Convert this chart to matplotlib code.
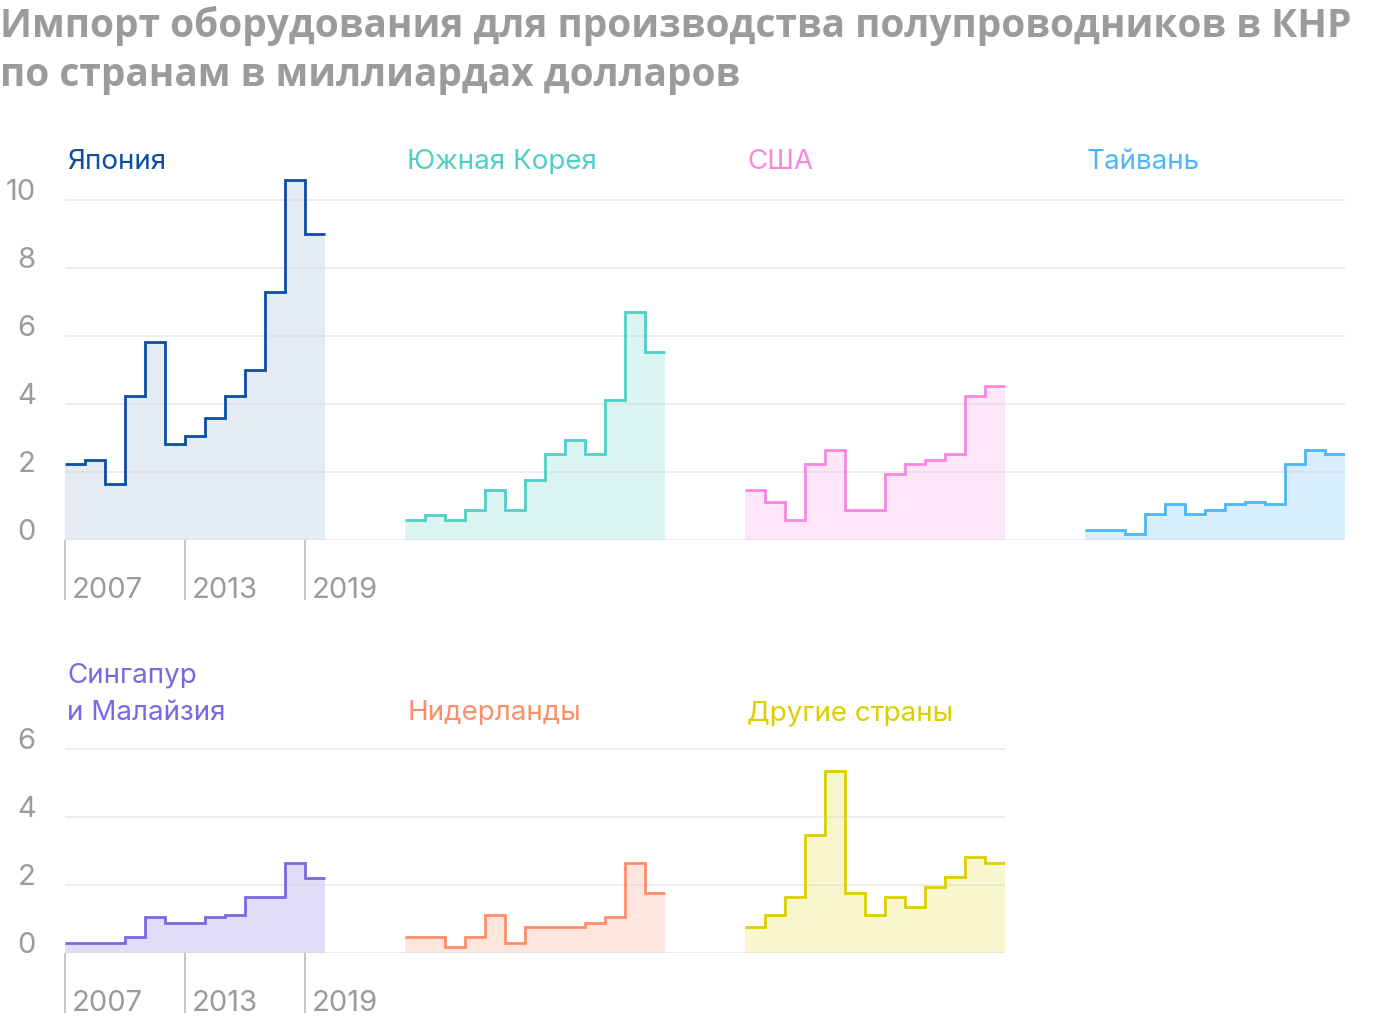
import numpy as np
import matplotlib
matplotlib.use("Agg")
import matplotlib.pyplot as plt

W, H = 1400, 1024

years = np.arange(2007, 2020)
edges = np.arange(2007, 2021)

countries = ["Япония", "Южная Корея", "США", "Тайвань",
             "Сингапур\nи Малайзия", "Нидерланды", "Другие страны"]

japan = [2.24, 2.34, 1.65, 4.23, 5.83, 2.83, 3.06, 3.60, 4.23, 5.01, 7.30, 10.59, 9.0]
korea = [0.59, 0.75, 0.59, 0.88, 1.47, 0.88, 1.77, 2.53, 2.95, 2.53, 4.13, 6.71, 5.53]
usa = [1.47, 1.12, 0.59, 2.24, 2.65, 0.88, 0.88, 1.94, 2.24, 2.34, 2.53, 4.23, 4.53]
taiwan = [0.29, 0.29, 0.18, 0.77, 1.06, 0.77, 0.88, 1.06, 1.12, 1.06, 2.24, 2.65, 2.53]
singapore = [0.29, 0.29, 0.29, 0.47, 1.06, 0.88, 0.88, 1.06, 1.11, 1.64, 1.64, 2.65, 2.22]
netherlands = [0.46, 0.46, 0.17, 0.46, 1.11, 0.28, 0.76, 0.76, 0.76, 0.88, 1.05, 2.65, 1.76]
others = [0.76, 1.11, 1.64, 3.47, 5.36, 1.76, 1.11, 1.64, 1.35, 1.93, 2.23, 2.82, 2.65]

series = [japan, korea, usa, taiwan, singapore, netherlands, others]

line_colors = ["#0b4ea2", "#4fcfc5", "#f987e0", "#4db6f8", "#7b68e0", "#fc8f6a", "#dccf00"]
fill_colors = ["#e5ebf4", "#dcf4f2", "#fde6f8", "#d9eefd", "#e1ddf8", "#fee6df", "#f8f6cc"]

top_ticks = [0, 2, 4, 6, 8, 10]
bottom_ticks = [0, 2, 4, 6]
year_ticks = [2007, 2013, 2019]

title_lines = ["Импорт оборудования для производства полупроводников в КНР",
               "по странам в миллиардах долларов"]

LABEL_FONT = ["Inter", "DejaVu Sans"]
TITLE_FONT = ["Open Sans", "DejaVu Sans"]
GREY = "#9b9b9b"


def box(left, top, width, height):
    return [left / W, 1 - (top + height) / H, width / W, height / H]


fig = plt.figure(figsize=(W / 100, H / 100), dpi=100)

for line, base in zip(title_lines, [37, 86]):
    fig.text(0, 1 - base / H, line, family=TITLE_FONT, weight="bold", color=GREY,
             fontsize=28, ha="left", va="baseline")

# (row, col) of each panel
layout = [(0, 0), (0, 1), (0, 2), (0, 3), (1, 0), (1, 1), (1, 2)]
row_zero = [540, 953]
row_ymax = [11, 6.5]
row_ticks = [top_ticks, bottom_ticks]
row_last_col = [3, 2]
px_per_unit = 34

for i, (row, col) in enumerate(layout):
    span = 13 if col == row_last_col[row] else 17
    left = 65 + 340 * col
    height = row_ymax[row] * px_per_unit
    ax = fig.add_axes(box(left, row_zero[row] - height, span * 20, height))
    ax.set_xlim(2007, 2007 + span)
    ax.set_ylim(0, row_ymax[row])
    for s in ax.spines.values():
        s.set_visible(False)

    for t in row_ticks[row]:
        ax.axhline(t, color="#d6d6d6", lw=1.1, alpha=0.6, zorder=3)

    ax.stairs(series[i], edges, baseline=0, fill=True, color=fill_colors[i], lw=0, zorder=2)
    ax.stairs(series[i], edges, baseline=None, color=line_colors[i], lw=2.0, zorder=4)

    ax.set_yticks(row_ticks[row])
    if col == 0:
        ax.set_yticklabels([str(t) for t in row_ticks[row]], family=LABEL_FONT,
                           fontsize=21, color=GREY)
        for lab in ax.get_yticklabels():
            lab.set_va("baseline")
        ax.tick_params(axis="y", length=0, pad=21)

        ax.set_xticks(year_ticks)
        ax.set_xticklabels([])
        ax.tick_params(axis="x", direction="out", length=43, width=1.1, color="#b5b5b5")
        for y in year_ticks:
            ax.annotate(str(y), xy=(y, 0), xycoords=("data", "axes fraction"),
                        xytext=(5, -41.5), textcoords="offset points",
                        family=LABEL_FONT, fontsize=21, color=GREY,
                        ha="left", va="baseline")
    else:
        ax.set_yticklabels([])
        ax.tick_params(axis="y", length=0)
        ax.set_xticks([])

    title_base = 169 if row == 0 else 720
    fig.text((left + 2) / W, 1 - title_base / H, countries[i], family=LABEL_FONT,
             fontsize=20, color=line_colors[i], ha="left", va="baseline",
             linespacing=1.6)

fig.savefig("out.png", dpi=100)
